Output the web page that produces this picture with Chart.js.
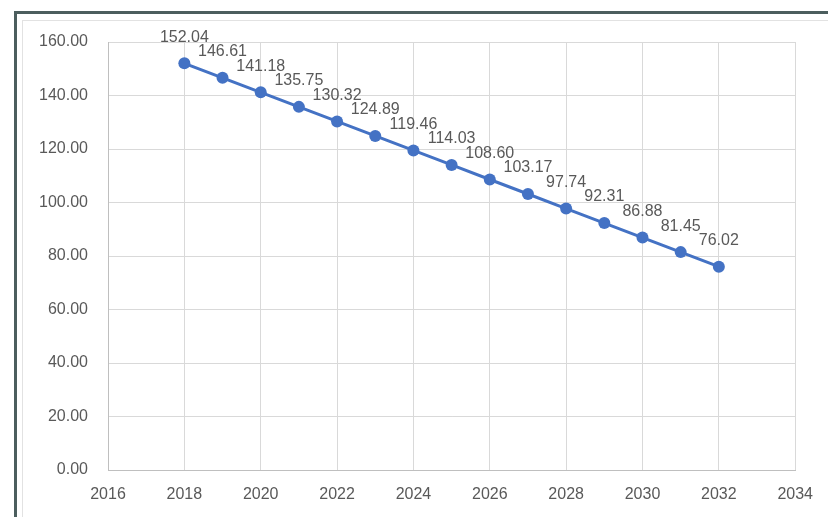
<!DOCTYPE html>
<html>
<head>
<meta charset="utf-8">
<script src="https://cdn.jsdelivr.net/npm/chart.js@4/dist/chart.umd.min.js"></script>
<style>
  html, body { margin: 0; padding: 0; background: #fff; }
  #wrap { position: relative; width: 828px; height: 517px; overflow: hidden; }
  #frame { position: absolute; left: 14px; top: 11px; width: 900px; height: 600px;
           border-top: 3px solid #4c5e5e; border-left: 3px solid #4c5e5e; }
  #inner { position: absolute; left: 22px; top: 20px; width: 900px; height: 600px;
           border-top: 1px solid #e2e2e2; border-left: 1px solid #e2e2e2; }
  canvas { position: absolute; left: 0; top: 0; }
</style>
</head>
<body>
<div id="wrap">
  <div id="frame"></div>
  <div id="inner"></div>
  <canvas id="chart" width="828" height="517"></canvas>
</div>
<script>
const years = [2018, 2019, 2020, 2021, 2022, 2023, 2024, 2025, 2026, 2027, 2028, 2029, 2030, 2031, 2032];
const values = [152.04, 146.61, 141.18, 135.75, 130.32, 124.89, 119.46, 114.03, 108.60, 103.17, 97.74, 92.31, 86.88, 81.45, 76.02];

const textColor = "#595959";
const fontFamily = "'Liberation Sans', Arial, sans-serif";

// value labels above each point
const pointLabels = {
    id: "pointLabels",
    afterDatasetsDraw(chart) {
        const ctx = chart.ctx;
        const meta = chart.getDatasetMeta(0);
        ctx.save();
        ctx.fillStyle = textColor;
        ctx.font = "16px " + fontFamily;
        ctx.textAlign = "center";
        ctx.textBaseline = "middle";
        meta.data.forEach((pt, i) => {
            ctx.fillText(values[i].toFixed(2), pt.x, pt.y - 26);
        });
        ctx.restore();
    }
};

new Chart(document.getElementById("chart"), {
    type: "line",
    data: {
        datasets: [{
            data: years.map((y, i) => ({ x: y, y: values[i] })),
            borderColor: "#4472c4",
            backgroundColor: "#4472c4",
            borderWidth: 3,
            pointRadius: 6,
            pointHoverRadius: 6,
            pointBackgroundColor: "#4472c4",
            pointBorderWidth: 0,
            tension: 0
        }]
    },
    options: {
        responsive: false,
        animation: false,
        layout: { padding: { top: 42, right: 32, left: 0, bottom: 0 } },
        plugins: { legend: { display: false }, tooltip: { enabled: false } },
        scales: {
            x: {
                type: "linear",
                min: 2016,
                max: 2034,
                afterFit(scale) { scale.height = 47; },
                ticks: { stepSize: 2, padding: 15, color: textColor, font: { family: fontFamily, size: 16 },
                         callback: v => String(v) },
                grid: { color: "#d9d9d9", drawTicks: false },
                border: { display: true, color: "#bfbfbf" }
            },
            y: {
                min: 0,
                max: 160,
                afterFit(scale) { scale.width = 108; },
                ticks: { stepSize: 20, padding: 20, color: textColor, font: { family: fontFamily, size: 16 },
                         callback: v => v.toFixed(2) },
                grid: { color: "#d9d9d9", drawTicks: false },
                border: { display: true, color: "#bfbfbf" }
            }
        }
    },
    plugins: [pointLabels]
});
</script>
</body>
</html>
